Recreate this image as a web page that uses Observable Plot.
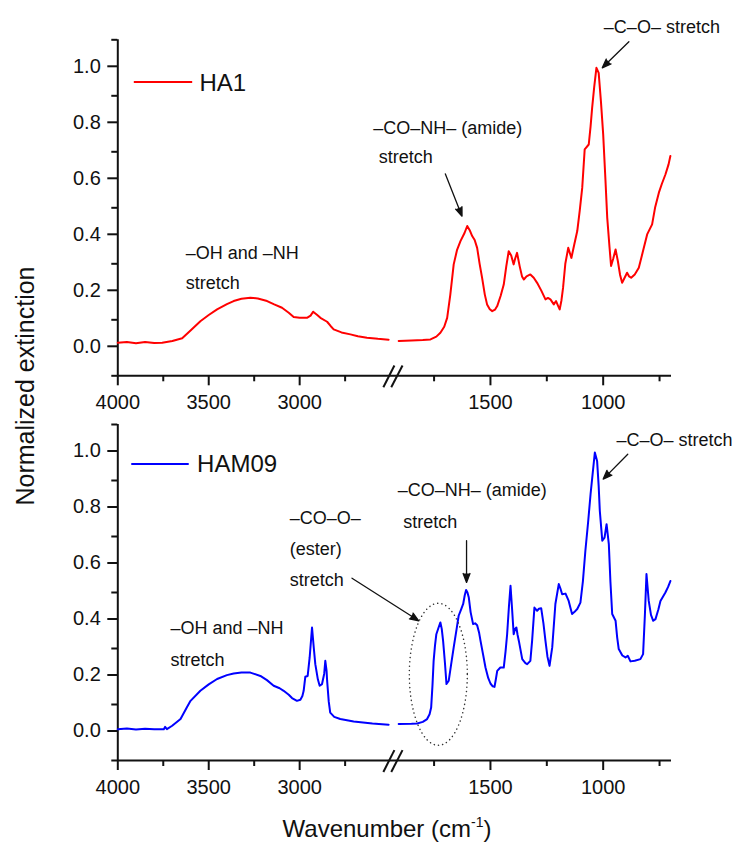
<!DOCTYPE html>
<html><head><meta charset="utf-8">
<script src="https://cdn.jsdelivr.net/npm/d3@7"></script>
<script src="https://cdn.jsdelivr.net/npm/@observablehq/plot@0.6"></script>
<style>
html,body{margin:0;padding:0;background:#fff;}
#wrap{position:relative;width:736px;height:842px;font-family:'Liberation Sans',Arial,sans-serif;color:#111;overflow:hidden;}
.layer{position:absolute;left:0;}
.layer svg{overflow:visible;}
#ylab{position:absolute;left:24.5px;top:386px;transform:translate(-50%,-50%) rotate(-90deg);font-size:25px;line-height:1;white-space:nowrap;}
#xlab{position:absolute;left:387px;top:816.7px;transform:translateX(-50%);font-size:24px;line-height:1;white-space:nowrap;}
#xlab sup{font-size:14px;line-height:0;vertical-align:10px;}
</style></head>
<body>
<div id="wrap">
  <div class="layer" id="topL" style="top:0"></div>
  <div class="layer" id="topR" style="top:0"></div>
  <div class="layer" id="botL" style="top:415px"></div>
  <div class="layer" id="botR" style="top:415px"></div>
  <div id="ylab">Normalized extinction</div>
  <div id="xlab">Wavenumber (cm<sup>-1</sup>)</div>
</div>
<script>
// ---------- data (wavenumber cm-1, normalized extinction) ----------
const ha1Left = [[4000,0.018],[3950,0.021],[3900,0.016],[3850,0.021],[3800,0.017],[3756,0.018],[3700,0.024],[3646,0.034],[3600,0.062],[3546,0.095],[3500,0.117],[3454,0.137],[3400,0.156],[3363,0.167],[3320,0.175],[3271,0.179],[3230,0.176],[3179,0.167],[3140,0.155],[3097,0.143],[3060,0.125],[3033,0.110],[3000,0.107],[2960,0.107],[2940,0.115],[2926,0.129],[2905,0.118],[2886,0.107],[2849,0.093],[2830,0.078],[2813,0.066],[2770,0.055],[2721,0.048],[2680,0.041],[2630,0.036],[2570,0.032],[2511,0.029]];
const ha1Right = [[1907,0.024],[1850,0.026],[1800,0.028],[1766,0.030],[1740,0.040],[1722,0.054],[1705,0.075],[1692,0.107],[1678,0.190],[1663,0.298],[1648,0.350],[1633,0.381],[1615,0.410],[1603,0.435],[1592,0.420],[1581,0.399],[1570,0.385],[1559,0.357],[1548,0.300],[1537,0.250],[1525,0.190],[1515,0.155],[1503,0.138],[1492,0.131],[1480,0.136],[1470,0.149],[1455,0.185],[1441,0.226],[1430,0.290],[1419,0.345],[1408,0.330],[1397,0.298],[1390,0.320],[1382,0.339],[1370,0.290],[1360,0.255],[1352,0.244],[1340,0.255],[1323,0.262],[1308,0.250],[1293,0.232],[1275,0.205],[1256,0.173],[1245,0.178],[1234,0.173],[1219,0.155],[1209,0.167],[1200,0.150],[1193,0.137],[1185,0.170],[1178,0.214],[1168,0.300],[1155,0.357],[1141,0.321],[1128,0.370],[1115,0.417],[1104,0.490],[1093,0.571],[1082,0.709],[1064,0.726],[1056,0.790],[1049,0.857],[1040,0.930],[1030,1.000],[1020,0.982],[1010,0.880],[1000,0.762],[990,0.600],[982,0.464],[972,0.360],[965,0.292],[955,0.320],[945,0.351],[935,0.310],[925,0.260],[916,0.232],[905,0.250],[894,0.268],[885,0.255],[876,0.250],[860,0.262],[842,0.286],[825,0.340],[805,0.405],[783,0.441],[770,0.500],[753,0.554],[740,0.585],[724,0.619],[710,0.655],[702,0.685]];
const ham09Left = [[4000,0.012],[3950,0.014],[3900,0.011],[3850,0.013],[3800,0.012],[3747,0.012],[3740,0.020],[3730,0.012],[3701,0.024],[3655,0.048],[3620,0.090],[3600,0.113],[3546,0.149],[3500,0.172],[3454,0.191],[3400,0.205],[3363,0.211],[3320,0.214],[3271,0.214],[3216,0.202],[3180,0.187],[3143,0.167],[3110,0.158],[3088,0.149],[3060,0.135],[3042,0.123],[3015,0.113],[2996,0.117],[2985,0.130],[2978,0.149],[2969,0.199],[2956,0.202],[2945,0.268],[2932,0.375],[2922,0.300],[2914,0.244],[2900,0.190],[2890,0.167],[2877,0.173],[2865,0.210],[2859,0.256],[2852,0.220],[2849,0.185],[2840,0.110],[2832,0.071],[2810,0.056],[2777,0.048],[2703,0.039],[2600,0.032],[2511,0.028]];
const ham09Right = [[1907,0.030],[1850,0.031],[1825,0.032],[1800,0.038],[1781,0.048],[1770,0.065],[1763,0.089],[1757,0.170],[1752,0.256],[1746,0.310],[1740,0.351],[1730,0.375],[1722,0.393],[1716,0.370],[1710,0.327],[1702,0.250],[1695,0.173],[1685,0.185],[1675,0.240],[1663,0.304],[1650,0.370],[1641,0.417],[1630,0.440],[1621,0.459],[1614,0.490],[1608,0.509],[1602,0.500],[1596,0.482],[1588,0.430],[1577,0.387],[1568,0.390],[1559,0.383],[1550,0.355],[1544,0.327],[1533,0.280],[1522,0.232],[1510,0.195],[1500,0.175],[1490,0.165],[1482,0.163],[1476,0.190],[1470,0.220],[1456,0.232],[1441,0.232],[1433,0.290],[1426,0.351],[1418,0.450],[1411,0.524],[1404,0.440],[1397,0.351],[1391,0.370],[1385,0.375],[1380,0.350],[1374,0.327],[1359,0.262],[1345,0.248],[1337,0.244],[1323,0.256],[1315,0.330],[1305,0.446],[1299,0.440],[1293,0.435],[1285,0.442],[1275,0.444],[1265,0.390],[1256,0.327],[1247,0.270],[1238,0.238],[1226,0.304],[1212,0.459],[1197,0.530],[1190,0.515],[1182,0.494],[1167,0.496],[1153,0.470],[1145,0.445],[1138,0.423],[1128,0.430],[1115,0.441],[1101,0.464],[1090,0.540],[1079,0.649],[1067,0.750],[1056,0.851],[1046,0.930],[1037,1.000],[1027,0.970],[1020,0.880],[1015,0.792],[1004,0.685],[994,0.696],[985,0.744],[975,0.673],[968,0.540],[960,0.423],[945,0.399],[938,0.340],[931,0.298],[915,0.275],[901,0.268],[891,0.274],[879,0.254],[860,0.256],[835,0.262],[823,0.280],[815,0.420],[808,0.566],[798,0.470],[788,0.420],[778,0.399],[768,0.405],[755,0.440],[746,0.470],[735,0.485],[724,0.500],[712,0.520],[702,0.541]];

// broken x axis: left piece 4000–2484, right piece 1930–697
const xDomainLeft = [4000, 2484];
const xDomainRight = [1930, 697];
const yDomain = [-0.1, 1.1];
const xMajorLeft = [4000, 3500, 3000];
const xMinorLeft = [3750, 3250, 2750];
const xMajorRight = [1500, 1000];
const xMinorRight = [1750, 1250, 750];
const yMajor = [0, 0.2, 0.4, 0.6, 0.8, 1.0];
const yMinor = [-0.1, 0.1, 0.3, 0.5, 0.7, 0.9, 1.1];
// "//" break marks (right-piece units): [x1, y1, x2, y2]
const breakMarks = [[1975, -0.141, 1926, -0.063], [1940, -0.141, 1890, -0.063]];

// legends (left-piece units): [x1, x2, y, labelX, labelY, label]
const legendHA1 = [[3912, 3591, 0.949, 3551, 0.917, "HA1"]];
const legendHAM09 = [[3926, 3610, 0.959, 3564, 0.929, "HAM09"]];

// annotations: [x, y(baseline), text]
const notesHA1Left = [[3627, 0.317, "–OH and –NH"], [3627, 0.209, "stretch"]];
const notesHA1Right = [[2020, 0.762, "–CO–NH– (amide)"], [1995, 0.659, "stretch"], [997, 1.125, "–C–O– stretch"]];
const notesHAM09Left = [[3710, 0.351, "–OH and –NH"], [3710, 0.238, "stretch"],
  [3055, 0.744, "–CO–O–"], [3055, 0.635, "(ester)"], [3055, 0.524, "stretch"]];
const notesHAM09Right = [[1911, 0.845, "–CO–NH– (amide)"], [1887, 0.732, "stretch"], [941, 1.024, "–C–O– stretch"]];
// arrows (right-piece units): [x1, y1, x2, y2]
const arrowsHA1 = [[1700, 0.621, 1626, 0.470], [886, 1.093, 1004, 1.0]];
const arrowsHAM09 = [[2114, 0.551, 1818, 0.399], [1606, 0.685, 1606, 0.536], [891, 0.994, 1000, 0.905]];
// dotted ellipse around the ester band: centre [x, y]
const ellipseHAM09 = [[1729, 0.206]];

const FONT = "'Liberation Sans', Arial, Helvetica, sans-serif";
const INK = "#111";
const W = 736, X0 = 117.3, XB = 393, X1 = 671;
const P = d => d[0], Q = d => d[1];

function base(o, marginLeft, marginRight, domain, marks) {
  return Plot.plot({
    width: W, height: o.H,
    marginLeft, marginRight, marginTop: o.top, marginBottom: o.H - o.bottom,
    style: {fontFamily: FONT, fontSize: "20px", color: INK, background: "transparent", overflow: "visible"},
    x: {domain},
    y: {domain: yDomain, axis: null},
    marks
  });
}

function leftPiece(o) {
  return base(o, X0, W - XB, xDomainLeft, [
    Plot.ruleY([-0.1], {strokeWidth: 2, stroke: INK}),
    Plot.ruleX([4000], {strokeWidth: 2, stroke: INK}),
    Plot.axisX({ticks: xMajorLeft, tickSize: 10, tickPadding: 9, strokeWidth: 2, fontSize: 20, label: null, tickFormat: d => String(d)}),
    Plot.axisX({ticks: xMinorLeft, tickSize: 6, strokeWidth: 2, label: null, tickFormat: () => ""}),
    Plot.axisY({ticks: yMajor, tickSize: 10, tickPadding: 7, strokeWidth: 2, fontSize: 20, label: null, dy: -1.5, tickFormat: d => d.toFixed(1)}),
    Plot.axisY({ticks: yMinor, tickSize: 6, strokeWidth: 2, label: null, tickFormat: () => ""}),
    Plot.line(o.data, {x: P, y: Q, stroke: o.color, strokeWidth: 2, strokeLinejoin: "round"}),
    Plot.link(o.legend, {x1: d => d[0], x2: d => d[1], y1: d => d[2], y2: d => d[2], stroke: o.color, strokeWidth: 2}),
    Plot.text(o.legend, {x: d => d[3], y: d => d[4], text: d => d[5], textAnchor: "start", lineAnchor: "bottom", fontSize: 24, fill: INK}),
    Plot.text(o.notes, {x: d => d[0], y: d => d[1], text: d => d[2], textAnchor: "start", lineAnchor: "bottom", fontSize: 18, fill: INK})
  ]);
}

function rightPiece(o) {
  const marks = [
    Plot.ruleY([-0.1], {strokeWidth: 2, stroke: INK}),
    Plot.axisX({ticks: xMajorRight, tickSize: 10, tickPadding: 9, strokeWidth: 2, fontSize: 20, label: null, tickFormat: d => String(d)}),
    Plot.axisX({ticks: xMinorRight, tickSize: 6, strokeWidth: 2, label: null, tickFormat: () => ""}),
    Plot.link(breakMarks, {x1: d => d[0], y1: d => d[1], x2: d => d[2], y2: d => d[3], stroke: INK, strokeWidth: 2}),
    Plot.line(o.data, {x: P, y: Q, stroke: o.color, strokeWidth: 2, strokeLinejoin: "round"}),
    Plot.text(o.notes, {x: d => d[0], y: d => d[1], text: d => d[2], textAnchor: "start", lineAnchor: "bottom", fontSize: 18, fill: INK}),
    Plot.arrow(o.arrows, {x1: d => d[0], y1: d => d[1], x2: d => d[2], y2: d => d[3], stroke: INK, fill: INK, strokeWidth: 1.3, headLength: 11, headAngle: 42})
  ];
  if (o.ellipse) {
    marks.push(Plot.dot(o.ellipse, {x: P, y: Q, r: 1, render: (index, scales, values) => {
      const ns = "http://www.w3.org/2000/svg";
      const g = document.createElementNS(ns, "g");
      for (const i of index) {
        const e = document.createElementNS(ns, "ellipse");
        e.setAttribute("cx", values.x[i]); e.setAttribute("cy", values.y[i]);
        e.setAttribute("rx", 29); e.setAttribute("ry", 71);
        e.setAttribute("fill", "none"); e.setAttribute("stroke", "#333");
        e.setAttribute("stroke-width", 1.5); e.setAttribute("stroke-dasharray", "0.1 4.2");
        e.setAttribute("stroke-linecap", "round");
        g.appendChild(e);
      }
      return g;
    }}));
  }
  return base(o, XB, W - X1, xDomainRight, marks);
}

const topCfg = {H: 415, top: 39.3, bottom: 375.3, color: "#ff0000"};
const botCfg = {H: 385, top: 9, bottom: 345, color: "#0000ff"};

document.getElementById("topL").appendChild(leftPiece({...topCfg, data: ha1Left, legend: legendHA1, notes: notesHA1Left}));
document.getElementById("topR").appendChild(rightPiece({...topCfg, data: ha1Right, notes: notesHA1Right, arrows: arrowsHA1}));
document.getElementById("botL").appendChild(leftPiece({...botCfg, data: ham09Left, legend: legendHAM09, notes: notesHAM09Left}));
document.getElementById("botR").appendChild(rightPiece({...botCfg, data: ham09Right, notes: notesHAM09Right, arrows: arrowsHAM09, ellipse: ellipseHAM09}));
</script>
</body></html>
